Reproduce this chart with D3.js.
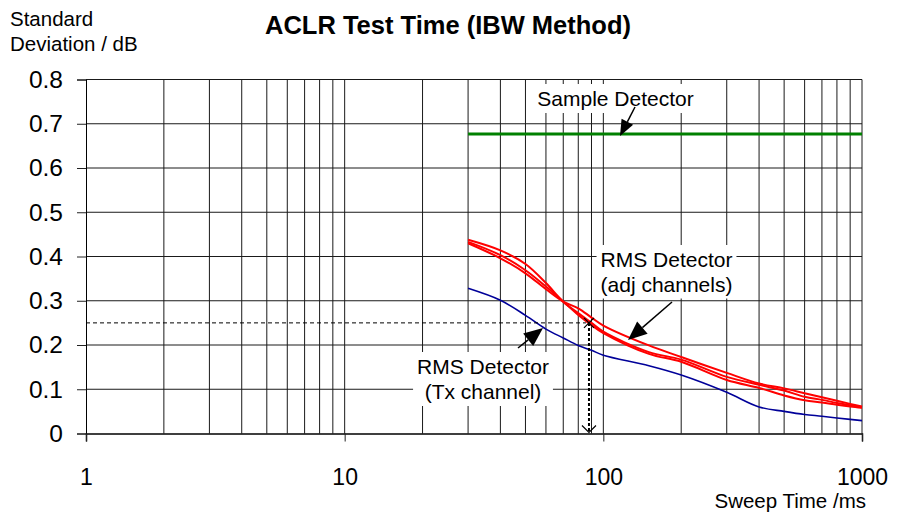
<!DOCTYPE html>
<html><head><meta charset="utf-8">
<script src="https://cdn.jsdelivr.net/npm/d3@7"></script>
<style>
html,body{margin:0;padding:0;background:#fff;}
svg{display:block;font-family:"Liberation Sans",Arial,sans-serif;}
</style></head>
<body><svg id="c" width="901" height="513"></svg>
<script>
// ---- data ----
const sweepTimes = [30,40,50,60,70,80,90,100,150,200,300,400,500,600,700,800,900,1000];
const sampleDetector = [0.677,0.677,0.677,0.677,0.677,0.677,0.677,0.677,0.677,0.677,0.677,0.677,0.677,0.677,0.677,0.677,0.677,0.677];
const rmsAdj1 = [0.430,0.396,0.362,0.326,0.298,0.283,0.262,0.244,0.199,0.173,0.137,0.113,0.102,0.091,0.082,0.074,0.067,0.061];
const rmsAdj2 = [0.438,0.414,0.383,0.340,0.298,0.272,0.250,0.230,0.184,0.167,0.128,0.110,0.097,0.083,0.076,0.069,0.064,0.059];
const rmsAdj3 = [0.433,0.403,0.369,0.332,0.298,0.268,0.245,0.227,0.180,0.162,0.121,0.103,0.086,0.075,0.070,0.065,0.061,0.058];
const rmsTx   = [0.328,0.301,0.267,0.236,0.216,0.199,0.188,0.177,0.153,0.132,0.093,0.060,0.050,0.043,0.039,0.035,0.032,0.029];
const xTickValues = [1,10,100,1000];
const xTickLabels = ["1","10","100","1000"];
const yTickValues = [0,0.1,0.2,0.3,0.4,0.5,0.6,0.7,0.8];
const yTickLabels = ["0","0.1","0.2","0.3","0.4","0.5","0.6","0.7","0.8"];
const refTime = 88, refDev = 0.25;

// ---- layout ----
const svg = d3.select("#c");
const L = 86, R = 862, T = 79.5, B = 433.5;
const x = d3.scaleLog().domain([1,1000]).range([L,R]);
const y = d3.scaleLinear().domain([0,0.8]).range([B,T]);

const grid = svg.append("g");
const minor = [];
for (let d = 1; d < 1000; d *= 10) for (let k = 1; k < 10; k++) minor.push(k*d);
minor.push(1000);
grid.selectAll("line.v").data(minor.filter(v=>v>1)).join("line")
  .attr("x1",d=>x(d)).attr("x2",d=>x(d)).attr("y1",T).attr("y2",B)
  .attr("stroke","#1a1a1a").attr("stroke-width",1);
grid.selectAll("line.h").data(yTickValues.filter(v=>v>0)).join("line")
  .attr("x1",L).attr("x2",R).attr("y1",d=>y(d)).attr("y2",d=>y(d))
  .attr("stroke","#1a1a1a").attr("stroke-width",1);

// axes
const yAxis = d3.axisLeft(y).tickValues(yTickValues).tickFormat((d,i)=>yTickLabels[i]).tickSize(9).tickPadding(14);
const gy = svg.append("g").attr("transform",`translate(${L},0)`).call(yAxis);
gy.select(".domain").attr("stroke","#000");
gy.selectAll(".tick line").attr("stroke","#222");
gy.selectAll("text").attr("font-size",24.5).attr("fill","#000").attr("font-family","Liberation Sans, Arial");

const xAxis = d3.axisBottom(x).tickValues(xTickValues).tickFormat((d,i)=>xTickLabels[i]).tickSize(8).tickPadding(30);
const gx = svg.append("g").attr("transform",`translate(0,${B})`).call(xAxis);
gx.select(".domain").attr("stroke","#000").attr("stroke-width",1.5);
gx.selectAll(".tick line").attr("stroke","#222");
gx.selectAll("text").attr("font-size",23).attr("fill","#000").attr("font-family","Liberation Sans, Arial")
  .attr("y",51.5).attr("dy",0);

// series
const line = d3.line().x((d,i)=>x(sweepTimes[i])).y(d=>y(d)).curve(d3.curveCatmullRom.alpha(0.5));
svg.append("path").attr("d",line(sampleDetector)).attr("fill","none").attr("stroke","#008000").attr("stroke-width",3);
[rmsAdj1,rmsAdj2,rmsAdj3].forEach(s=>{
  svg.append("path").attr("d",line(s)).attr("fill","none").attr("stroke","#ff0000").attr("stroke-width",2);
});
svg.append("path").attr("d",line(rmsTx)).attr("fill","none").attr("stroke","#000099").attr("stroke-width",1.6);

// reference dashed lines
svg.append("line").attr("x1",L).attr("x2",x(refTime)-3).attr("y1",y(refDev)).attr("y2",y(refDev))
  .attr("stroke","#000").attr("stroke-width",1).attr("stroke-dasharray","4,3");
svg.append("line").attr("x1",x(refTime)).attr("x2",x(refTime)).attr("y1",y(refDev)).attr("y2",B-1)
  .attr("stroke","#000").attr("stroke-width",2).attr("stroke-dasharray","3,2");
svg.append("path").attr("d",`M${x(refTime)-7},${B-8}L${x(refTime)},${B-1}L${x(refTime)+7},${B-8}`)
  .attr("fill","none").attr("stroke","#000").attr("stroke-width",1.2);
svg.append("path").attr("d",`M${x(refTime)-5},${y(refDev)-5}L${x(refTime)+5},${y(refDev)+5}M${x(refTime)-5},${y(refDev)+5}L${x(refTime)+5},${y(refDev)-5}`)
  .attr("stroke","#000").attr("stroke-width",1.3);

// annotations
function label(lines, cx, baseline, lh){
  const g = svg.append("g");
  const r = g.append("rect").attr("fill","#fff");
  const t = g.append("text").attr("text-anchor","middle").attr("font-size",21).attr("fill","#000");
  lines.forEach((s,i)=>t.append("tspan").attr("x",cx).attr("y",baseline+i*lh).text(s));
  const bb = t.node().getBBox();
  r.attr("x",bb.x-4).attr("y",Math.max(bb.y-3,T+1)).attr("width",bb.width+8).attr("height",bb.y+bb.height+3-Math.max(bb.y-3,T+1));
}
function arrow(x1,y1,x2,y2,len,w){
  const a = Math.atan2(y2-y1,x2-x1);
  const bx = x2-len*Math.cos(a), by = y2-len*Math.sin(a);
  svg.append("line").attr("x1",x1).attr("y1",y1).attr("x2",bx).attr("y2",by).attr("stroke","#000").attr("stroke-width",1.5);
  const px = -Math.sin(a)*w/2, py = Math.cos(a)*w/2;
  svg.append("path").attr("d",`M${x2},${y2}L${bx+px},${by+py}L${bx-px},${by-py}Z`).attr("fill","#000");
}
label(["Sample Detector"],615.5,106,25);
arrow(635,107,620,136,16,13);
label(["RMS Detector","(adj channels)"],666.5,267,24.5);
arrow(672,302,628,340,19,16);
label(["RMS Detector","(Tx channel)"],483,374,25);
arrow(518,348,543,328,19,16);

// titles
svg.append("text").attr("x",448).attr("y",34).attr("text-anchor","middle").attr("font-size",25.5).attr("font-weight","bold").text("ACLR Test Time (IBW Method)");
svg.append("text").attr("x",10).attr("y",26).attr("font-size",20.5).text("Standard");
svg.append("text").attr("x",10).attr("y",51).attr("font-size",20.5).text("Deviation / dB");
svg.append("text").attr("x",866).attr("y",507.5).attr("text-anchor","end").attr("font-size",20.5).text("Sweep Time /ms");
</script></body></html>
